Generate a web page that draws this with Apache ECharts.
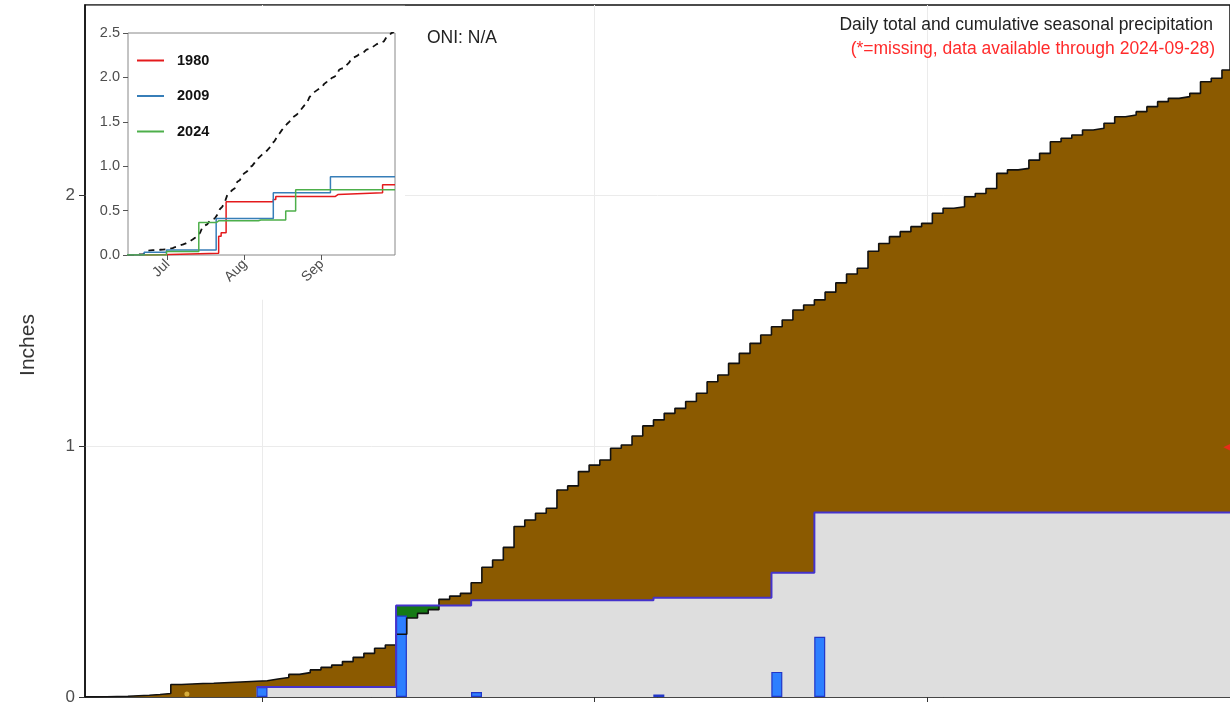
<!DOCTYPE html>
<html><head><meta charset="utf-8">
<script src="https://cdn.jsdelivr.net/npm/echarts@6.0.0/dist/echarts.min.js"></script>
<style>html,body{margin:0;padding:0;background:#fff}#c{width:1230px;height:713px}</style>
</head><body><div id="c"></div>
<script>
// Day index relative to Jul 1 (0 = Jul 1). Season Jun 15 (-16) .. Sep 30 (91)
const firstDay = -16;
const normalCum = [
  0.000,0.001,0.002,0.003,0.005,0.007,0.010,0.014,0.050,0.052,0.054,0.055,0.057,0.059,0.061,0.063,
  0.065,0.072,0.078,0.090,0.097,0.108,0.118,0.127,0.141,0.158,0.174,0.194,0.207,0.250,0.315,0.333,
  0.348,0.389,0.402,0.413,0.455,0.517,0.546,0.596,0.679,0.705,0.732,0.752,0.825,0.841,0.898,0.924,
  0.944,0.991,1.004,1.040,1.080,1.104,1.130,1.150,1.177,1.210,1.256,1.283,1.329,1.369,1.409,1.442,
  1.475,1.502,1.542,1.562,1.582,1.613,1.650,1.685,1.708,1.776,1.807,1.834,1.854,1.874,1.887,1.927,
  1.947,1.953,1.993,2.006,2.026,2.086,2.100,2.106,2.139,2.166,2.212,2.226,2.239,2.259,2.266,2.286,
  2.312,2.319,2.332,2.352,2.372,2.385,2.392,2.405,2.451,2.465,2.498,2.510
];
// 2024 daily precipitation [day, inches]
const obsDaily = [[0,0.04],[13,0.325],[20,0.02],[37,0.01],[48,0.10],[52,0.24]];
const obsFirstDay = 0;
const obsLastDay = 91;
// inset: cumulative totals of other years, [day, inches] at change days
const cum1980 = [[-16,0],[-6,0.02],[21,0.21],[22,0.25],[24,0.60],[43,0.625],[44,0.66],[68,0.68],[69,0.70],[87,0.79]];
const cum2009 = [[-16,0],[-9,0.03],[0,0.055],[20,0.41],[43,0.70],[66,0.88]];
const monthTicks = [0,31,62];
const monthNames = ['Jul','Aug','Sep'];
const yTicksMain = [0,1,2];
const markerYellow = [[-7,0.012]];
const markerRed = [[90,0.995]];

const days = normalCum.map((_, i) => firstDay + i);
function stepPoints(xs, ys){
  const pts = xs.map((x,i)=>[x-0.5, ys[i]]);
  pts.push([xs[xs.length-1]+0.5, ys[ys.length-1]]);
  return pts;
}
const obsDays = [], obsCum = [];
let run = 0;
for (let d = obsFirstDay; d <= obsLastDay; d++) {
  const e = obsDaily.find(p => p[0] === d);
  if (e) run += e[1];
  obsDays.push(d); obsCum.push(+run.toFixed(3));
}
const grayCum = obsDays.map((d,i)=>Math.min(obsCum[i], normalCum[d-firstDay]));
function changeSteps(list, endX){
  const pts = list.map(p=>[p[0]-0.5, p[1]]);
  pts.push([endX, list[list.length-1][1]]);
  return pts;
}
const inset2024 = [[firstDay-0.5,0]].concat(stepPoints(obsDays, obsCum));

const PX_PER_DAY = 10.726;
const MAIN_W = 1145;
const FONT = 'Liberation Sans, Arial, Helvetica, sans-serif';
const chart = echarts.init(document.getElementById('c'));
chart.setOption({
  animation:false,
  backgroundColor:'#fff',
  grid:[
    {left:85, top:5, width:MAIN_W, height:692, show:true, borderColor:'#111', borderWidth:1.5, z:0},
    {left:128, top:33, width:267, height:222, show:true, borderColor:'#888', borderWidth:1, backgroundColor:'#fff', z:25}
  ],
  xAxis:[
    {type:'value', gridIndex:0, min:firstDay-0.5, max:firstDay-0.5+MAIN_W/PX_PER_DAY,
     axisLine:{show:true, onZero:false, lineStyle:{color:'#111', width:1.5}},
     axisTick:{show:true, customValues:monthTicks, length:5, lineStyle:{color:'#333'}},
     axisLabel:{show:false}, splitLine:{show:false}},
    {type:'value', gridIndex:1, min:-16, max:91.5, z:30,
     axisLine:{show:false, onZero:false},
     axisTick:{show:true, customValues:monthTicks, length:5, lineStyle:{color:'#555'}},
     axisLabel:{show:true, customValues:monthTicks, rotate:45, margin:7, fontSize:14, color:'#4d4d4d', fontFamily:FONT,
       formatter:v=>monthNames[monthTicks.indexOf(v)] || ''},
     splitLine:{show:false}}
  ],
  yAxis:[
    {type:'value', gridIndex:0, min:0, max:692/251, interval:1,
     axisLine:{show:true, onZero:false, lineStyle:{color:'#111', width:1.5}},
     axisTick:{show:true, customValues:yTicksMain, length:6, lineStyle:{color:'#333'}},
     axisLabel:{show:true, customValues:yTicksMain, margin:10, fontSize:17, color:'#4d4d4d', fontFamily:FONT},
     splitLine:{show:true, lineStyle:{color:'#ebebeb', width:1}}},
    {type:'value', gridIndex:1, min:0, max:2.5, interval:0.5, z:30,
     axisLine:{show:false, onZero:false},
     axisTick:{show:true, length:5, lineStyle:{color:'#555'}},
     axisLabel:{show:true, margin:8, fontSize:14.5, color:'#4d4d4d', fontFamily:FONT, formatter:v=>v.toFixed(1)},
     splitLine:{show:false}}
  ],
  legend:{
    data:['1980','2009','2024'], orient:'vertical', left:132, top:48, itemWidth:27, itemHeight:2,
    itemGap:20.5, icon:'rect', z:40, selectedMode:false,
    textStyle:{fontSize:14.5, fontWeight:'bold', color:'#111', fontFamily:FONT, padding:[0,0,0,8]}
  },
  graphic:[
    {type:'rect', z:20, shape:{x:86, y:5.8, width:319, height:294}, style:{fill:'#fff'}},
    {type:'text', z:50, x:427, y:38, style:{text:'ONI: N/A', font:'17.5px '+FONT, fill:'#222', textVerticalAlign:'middle', verticalAlign:'middle'}},
    {type:'text', z:50, x:1213, y:25, style:{text:'Daily total and cumulative seasonal precipitation', font:'17.5px '+FONT, fill:'#222', textAlign:'right', align:'right', textVerticalAlign:'middle', verticalAlign:'middle'}},
    {type:'text', z:50, x:1215, y:49, style:{text:'(*=missing, data available through 2024-09-28)', font:'17.5px '+FONT, fill:'#ff2b2b', textAlign:'right', align:'right', textVerticalAlign:'middle', verticalAlign:'middle'}},
    {type:'text', z:50, x:28, y:345, rotation:Math.PI/2, style:{text:'Inches', font:'21px '+FONT, fill:'#333', textAlign:'center', align:'center', textVerticalAlign:'middle', verticalAlign:'middle'}}
  ],
  series:[
    {name:'grid', type:'line', xAxisIndex:0, yAxisIndex:0, data:[], z:0, silent:true,
     markLine:{z:0, silent:true, symbol:'none', label:{show:false}, lineStyle:{color:'#ebebeb', width:1, type:'solid'},
       data:monthTicks.map(v=>({xAxis:v}))}},
    {name:'above', type:'line', step:'end', xAxisIndex:0, yAxisIndex:0, z:1, symbol:'none',
     data:stepPoints(obsDays, obsCum), lineStyle:{width:0}, areaStyle:{color:'#157a15', opacity:1}},
    {name:'normal', type:'line', step:'end', xAxisIndex:0, yAxisIndex:0, z:2, symbol:'none',
     data:stepPoints(days, normalCum), lineStyle:{width:0}, areaStyle:{color:'#8b5a00', opacity:1}},
    {name:'observed', type:'line', step:'end', xAxisIndex:0, yAxisIndex:0, z:3, symbol:'none',
     data:stepPoints(obsDays, grayCum), lineStyle:{width:0}, areaStyle:{color:'#dedede', opacity:1}},
    {name:'daily', type:'bar', xAxisIndex:0, yAxisIndex:0, z:4, barWidth:11, data:obsDaily,
     itemStyle:{color:'#2d7fff', borderColor:'#2136c8', borderWidth:1.2}},
    {name:'normalLine', type:'line', step:'end', xAxisIndex:0, yAxisIndex:0, z:5, symbol:'none',
     data:stepPoints(days, normalCum), lineStyle:{color:'#111', width:1.6}},
    {name:'obsLine', type:'line', step:'end', xAxisIndex:0, yAxisIndex:0, z:6, symbol:'none',
     data:stepPoints(obsDays, obsCum), lineStyle:{color:'#4433cc', width:2}},
    {name:'mk1', type:'scatter', xAxisIndex:0, yAxisIndex:0, z:7, data:markerYellow, symbolSize:5,
     itemStyle:{color:'#e9c24a'}},
    {name:'mk2', type:'scatter', xAxisIndex:0, yAxisIndex:0, z:7, data:markerRed, symbol:'triangle', symbolRotate:90, symbolSize:8,
     itemStyle:{color:'#ff2020'}},
    {name:'normalInset', type:'line', xAxisIndex:1, yAxisIndex:1, z:35, symbol:'none',
     data:days.map((d,i)=>[d, normalCum[i]]), lineStyle:{color:'#111', width:1.8, type:[6,5]}},
    {name:'1980', type:'line', step:'end', xAxisIndex:1, yAxisIndex:1, z:36, symbol:'none', color:'#e41a1c',
     data:changeSteps(cum1980, 91.5), lineStyle:{color:'#e41a1c', width:1.5}},
    {name:'2009', type:'line', step:'end', xAxisIndex:1, yAxisIndex:1, z:36, symbol:'none', color:'#377eb8',
     data:changeSteps(cum2009, 91.5), lineStyle:{color:'#377eb8', width:1.5}},
    {name:'2024', type:'line', step:'end', xAxisIndex:1, yAxisIndex:1, z:36, symbol:'none', color:'#4daf4a',
     data:inset2024, lineStyle:{color:'#4daf4a', width:1.5}}
  ]
});
</script></body></html>
